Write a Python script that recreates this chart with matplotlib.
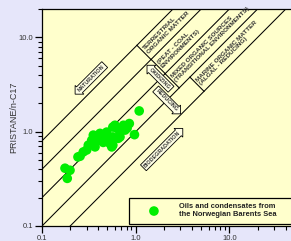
import matplotlib
matplotlib.use('Agg')
import matplotlib.pyplot as plt
import numpy as np
from matplotlib.patches import Rectangle
from matplotlib.ticker import FixedLocator, FixedFormatter, LogLocator, NullFormatter

# phytane/n-C18 (x) and pristane/n-C17 (y)
phy_c18 = [1.09, 0.97, 0.855, 0.74, 0.60, 0.57, 0.68, 0.49, 0.416, 0.353,
           0.339, 0.40, 0.53, 0.555, 0.312, 0.368, 0.30, 0.276, 0.176, 0.199,
           0.186, 0.77, 0.65, 0.45, 0.49, 0.57, 0.68, 0.368, 0.57, 0.81,
           0.63, 0.51, 0.242, 0.255]
pri_c17 = [1.66, 0.93, 1.22, 1.17, 1.17, 0.88, 0.99, 0.88, 0.96, 0.92,
           0.81, 0.81, 0.75, 0.69, 0.72, 0.69, 0.64, 0.61, 0.41, 0.39,
           0.32, 1.04, 0.85, 0.77, 0.99, 1.12, 0.88, 0.90, 0.72, 1.09,
           1.09, 0.81, 0.54, 0.55]

# boundary lines pr/c17 = k * ph/c18
ratios = [8, 4, 2, 1, 0.5]

major = [0.1, 1, 10]
major_labels = ['0.1', '1.0', '10.0']

region_labels = ['TERRESTRIAL\nORGANIC MATTER',
                 '(PEAT - COAL\nENVIRONMENTS)',
                 'MIXED ORGANIC SOURCES\n(TRANSITIONAL ENVIRONMENTS)',
                 'MARINE ORGANIC MATTER\n(ALGAL - REDUCING)']
bracket_x = [1.03, 1.46, 2.06, 3.79]
bracket_k = [8, 4, 2, 1]

yellow = '#FFFFCC'
fig = plt.figure(figsize=(2.91, 2.41), dpi=100, facecolor='#E6E6FA')
ax = fig.add_axes([42/291, 15/241, 281.1/291, 217/241])
ax.set_facecolor(yellow)
ax.set_xscale('log')
ax.set_yscale('log')
ax.set_xlim(0.1, 100)
ax.set_ylim(0.1, 20)

for k in ratios:
    ax.plot([1e-3, 1e3], [k*1e-3, k*1e3], c='black', lw=0.75, zorder=2)

# little brackets in front of the region labels
for k, x0, lab in zip(bracket_k, bracket_x, region_labels):
    s = np.sqrt(2)
    ax.plot([x0, x0*s], [k*x0, k*x0/s], c='black', lw=0.75, zorder=2)
    xm, ym = x0*s**0.5, k*x0/s**0.5
    ax.text(xm*1.04, ym*1.04, lab, rotation=45, rotation_mode='anchor',
            ha='left', va='center', multialignment='left',
            fontsize=4.6, fontweight='bold', family='Liberation Sans',
            color='#333333', linespacing=1.1, zorder=3)

arrow_font = dict(fontsize=3.9, fontweight='bold', family='Liberation Sans',
                  color='#333333', ha='center', va='center',
                  rotation_mode='anchor', zorder=4)
def box(style):
    return dict(boxstyle=style + ',pad=0.3', fc='#FFFFE6', ec='black', lw=0.6)

ax.text(0.333, 3.68, 'MATURATION', rotation=45, bbox=box('larrow'), **arrow_font)
ax.text(1.91, 0.653, 'BIODEGRADATION', rotation=45, bbox=box('rarrow'), **arrow_font)
ax.text(1.82, 3.68, 'OXIDIZING', rotation=-45, bbox=box('larrow'), **arrow_font)
ax.text(2.16, 2.15, 'REDUCING', rotation=-45, bbox=box('rarrow'), **arrow_font)

sc = ax.scatter(phy_c18, pri_c17, s=48, c='#00EE00', edgecolors='none', zorder=5,
                label='Oils and condensates from\nthe Norwegian Barents Sea')

# legend frame
ax.add_patch(Rectangle((0.848, 0.105), 100, 0.093, fc=yellow, ec='black',
                       lw=0.9, zorder=6))
leg = ax.legend(handles=[sc], loc='center left', bbox_to_anchor=(1.29, 0.146),
                bbox_transform=ax.transData, frameon=False, borderpad=0,
                borderaxespad=0, handlelength=2.1, handletextpad=2.3,
                scatterpoints=1,
                prop={'family': 'Liberation Sans', 'weight': 'bold', 'size': 5.4})
leg.set_zorder(7)
for t in leg.get_texts():
    t.set_color('#222222')

for axis in (ax.xaxis, ax.yaxis):
    axis.set_major_locator(FixedLocator(major))
    axis.set_major_formatter(FixedFormatter(major_labels))
    axis.set_minor_locator(LogLocator(base=10, subs=np.arange(2, 10)))
    axis.set_minor_formatter(NullFormatter())

ax.tick_params(which='major', direction='out', length=5, width=0.9, pad=1.5,
               labelsize=5.5, labelcolor='#333333')
ax.tick_params(which='minor', direction='out', length=3, width=0.8)
for lab in ax.get_xticklabels() + ax.get_yticklabels():
    lab.set_family('Liberation Sans')
for sp in ax.spines.values():
    sp.set_linewidth(0.9)

ax.set_ylabel('PRISTANE/n-C17', fontsize=6.5, family='Liberation Sans',
              color='#333333')
ax.yaxis.set_label_coords(-0.086, 0.5)

fig.savefig('out.png', dpi=100, facecolor=fig.get_facecolor())
